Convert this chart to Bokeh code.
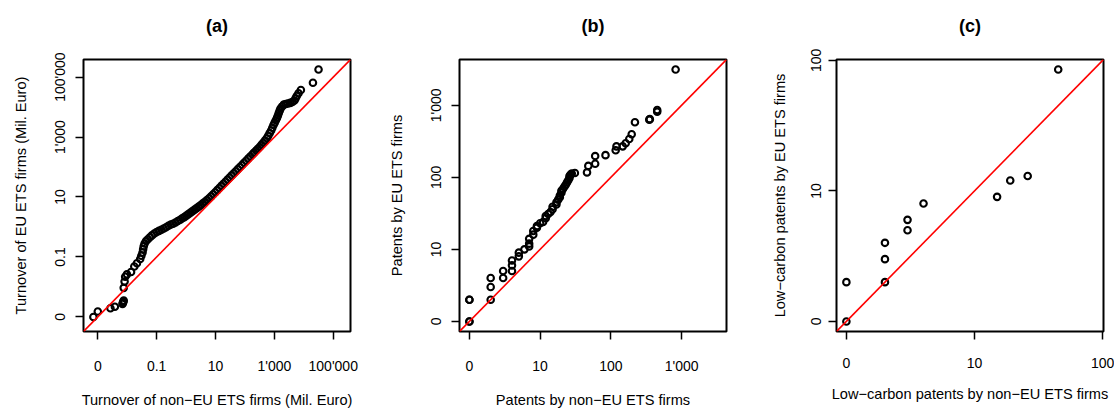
import numpy as np
from bokeh.plotting import figure
from bokeh.layouts import row
from bokeh.models import FixedTicker, Slope, LinearAxis
from bokeh.embed import file_html
from bokeh.resources import INLINE

# ---------------- Panel (a): turnover quantiles, stored as log10(Mil. Euro) ----------------
a_nonets_log10 = [-3.15, -3.00, -2.57, -2.42, -2.16, -2.15, -2.13, -2.12, -2.12, -2.09, -2.07, -2.01,
                  -1.87, -1.76, -1.67,
                  -1.56, -1.52, -1.48, -1.46, -1.44, -1.41, -1.36, -1.30, -1.23, -1.16,
                  -1.08, -1.00, -0.92, -0.84, -0.76, -0.68, -0.60, -0.52, -0.44, -0.36,
                  -0.28, -0.20, -0.13, -0.06, 0.01, 0.08, 0.15, 0.22, 0.29, 0.36,
                  0.43, 0.50, 0.57, 0.64, 0.71, 0.78, 0.85, 0.92, 0.99, 1.06,
                  1.13, 1.20, 1.27, 1.34, 1.41, 1.48, 1.55, 1.62, 1.69, 1.76,
                  1.83, 1.90, 1.97, 2.04, 2.11, 2.18, 2.25, 2.31, 2.38, 2.44,
                  2.50, 2.56, 2.62, 2.68, 2.74, 2.79, 2.84, 2.89, 2.93, 2.97,
                  3.01, 3.05, 3.09, 3.12, 3.15, 3.18, 3.21, 3.26, 3.32, 3.39,
                  3.46, 3.54, 3.61, 3.68, 3.72, 3.76, 3.82, 3.90, 4.31, 4.50]
a_ets_log10 = [-3.00, -2.82, -2.71, -2.66, -2.57, -2.53, -2.49, -2.45, -2.03, -1.82, -1.66, -1.58,
               -1.50, -1.32, -1.21,
               -1.07, -0.96, -0.85, -0.74, -0.64, -0.55, -0.47, -0.41, -0.34, -0.28,
               -0.22, -0.17, -0.13, -0.09, -0.05, -0.01, 0.04, 0.08, 0.11, 0.15,
               0.20, 0.24, 0.29, 0.33, 0.38, 0.43, 0.48, 0.53, 0.58, 0.63,
               0.68, 0.73, 0.79, 0.84, 0.90, 0.96, 1.02, 1.09, 1.16, 1.23,
               1.30, 1.37, 1.44, 1.51, 1.58, 1.65, 1.72, 1.79, 1.86, 1.93,
               2.00, 2.07, 2.14, 2.21, 2.28, 2.35, 2.42, 2.48, 2.55, 2.61,
               2.67, 2.74, 2.81, 2.88, 2.96, 3.04, 3.13, 3.22, 3.31, 3.40,
               3.48, 3.56, 3.64, 3.72, 3.80, 3.88, 3.95, 4.02, 4.08, 4.10,
               4.12, 4.14, 4.17, 4.22, 4.29, 4.37, 4.46, 4.57, 4.81, 5.25]
a_ticks = [-3, -1, 1, 3, 5]
a_tick_labels = ["0", "0.1", "10", "1'000", "100'000"]

# ---------------- Panel (b): patent counts ----------------
b_nonets = [0, 0, 0, 0, 1, 1, 1, 2, 2, 3, 3, 3, 4, 4, 5, 6, 6, 6, 7, 7, 8, 8, 9, 10, 11, 11, 12, 13,
            14, 14, 16, 16, 17, 18, 18, 19, 19, 20, 21, 22, 23, 24, 25, 25, 26, 27, 30, 45, 47, 59,
            59, 83, 116, 119, 146, 161, 181, 196, 218, 348, 355, 451, 451, 822]
b_ets = [0, 0, 1, 1, 1, 2, 3, 3, 4, 4, 5, 6, 7, 8, 9, 10, 11, 13, 15, 17, 19, 20, 22, 23, 26, 28, 30,
         32, 35, 38, 41, 44, 48, 52, 55, 60, 64, 68, 73, 78, 84, 90, 97, 103, 108, 112, 114, 116,
         143, 153, 196, 202, 236, 268, 268, 296, 339, 395, 581, 630, 640, 810, 858, 3125]
b_ticks = [0, 1, 2, 3]
b_tick_labels = ["0", "10", "100", "1'000"]

# ---------------- Panel (c): low-carbon patent counts ----------------
c_nonets = [0, 0, 1, 1, 1, 2, 2, 3, 14, 18, 25, 44]
c_ets = [0, 1, 1, 2, 3, 4, 5, 7, 8, 11, 12, 84]
c_ticks = [0, 1, 2]
c_tick_labels = ["0", "10", "100"]

FONT = "Liberation Sans"
H = 410


def make_panel(title, xs, ys, ticks, labels, xlabel, ylabel, width, left, right):
    xs = np.asarray(xs, dtype=float)
    ys = np.asarray(ys, dtype=float)
    lo = min(xs.min(), ys.min())
    hi = max(xs.max(), ys.max())
    pad = 0.04 * (hi - lo)
    p = figure(width=width, height=H, x_range=(lo - pad, hi + pad), y_range=(lo - pad, hi + pad),
               output_backend="svg", toolbar_location=None,
               min_border_left=left, min_border_right=right, min_border_top=59, min_border_bottom=70)
    p.grid.visible = False
    p.background_fill_color = "white"
    p.border_fill_color = "white"
    p.outline_line_color = "black"
    p.outline_line_width = 2

    p.scatter(xs, ys, marker="circle", size=6.5, fill_color=None,
              line_color="black", line_width=2.1)
    p.add_layout(Slope(gradient=1, y_intercept=0, line_color="red", line_width=1.6))

    overrides = {t: l for t, l in zip(ticks, labels)}
    for ax in (p.xaxis[0], p.yaxis[0]):
        ax.ticker = FixedTicker(ticks=ticks)
        ax.major_label_overrides = overrides
        ax.axis_line_color = None
        ax.minor_tick_line_color = None
        ax.major_tick_in = 0
        ax.major_tick_out = 8
        ax.major_tick_line_width = 1.5
        ax.major_tick_line_color = "black"
        ax.major_label_text_font = FONT
        ax.major_label_text_font_size = "14px"
        ax.major_label_text_color = "black"
        ax.axis_label_text_font = FONT
        ax.axis_label_text_font_size = "14.6px"
        ax.axis_label_text_font_style = "normal"
        ax.axis_label_text_color = "black"
    p.xaxis[0].axis_label = xlabel
    p.yaxis[0].axis_label = ylabel
    p.xaxis[0].major_label_standoff = 18
    p.xaxis[0].axis_label_standoff = 15
    p.yaxis[0].major_label_standoff = 7
    p.yaxis[0].axis_label_standoff = 21
    p.yaxis[0].major_label_orientation = "vertical"

    # Panel heading, drawn as the label of a tick-less axis above the frame
    top = LinearAxis(ticker=FixedTicker(ticks=[]), axis_label=title,
                     axis_line_color=None, major_tick_line_color=None, minor_tick_line_color=None,
                     major_tick_in=0, major_tick_out=0, major_label_standoff=0,
                     major_label_text_font_size="1px", axis_label_standoff=24,
                     axis_label_text_font=FONT, axis_label_text_font_size="18px",
                     axis_label_text_font_style="bold", axis_label_text_color="black")
    p.add_layout(top, "above")
    return p


pa = make_panel("(a)", a_nonets_log10, a_ets_log10, a_ticks, a_tick_labels,
                "Turnover of non\u2212EU ETS firms (Mil. Euro)", "Turnover of EU ETS firms (Mil. Euro)",
                384, 83, 34)
pb = make_panel("(b)", np.log10(np.array(b_nonets) + 1), np.log10(np.array(b_ets) + 1),
                b_ticks, b_tick_labels,
                "Patents by non\u2212EU ETS firms", "Patents by EU ETS firms", 376, 75, 34)
pc = make_panel("(c)", np.log10(np.array(c_nonets) + 1), np.log10(np.array(c_ets) + 1),
                c_ticks, c_tick_labels,
                "Low\u2212carbon patents by non\u2212EU ETS firms", "Low\u2212carbon patents by EU ETS firms",
                354, 76, 11)

layout = row(pa, pb, pc)
open("out.html", "w").write(file_html(layout, INLINE))
